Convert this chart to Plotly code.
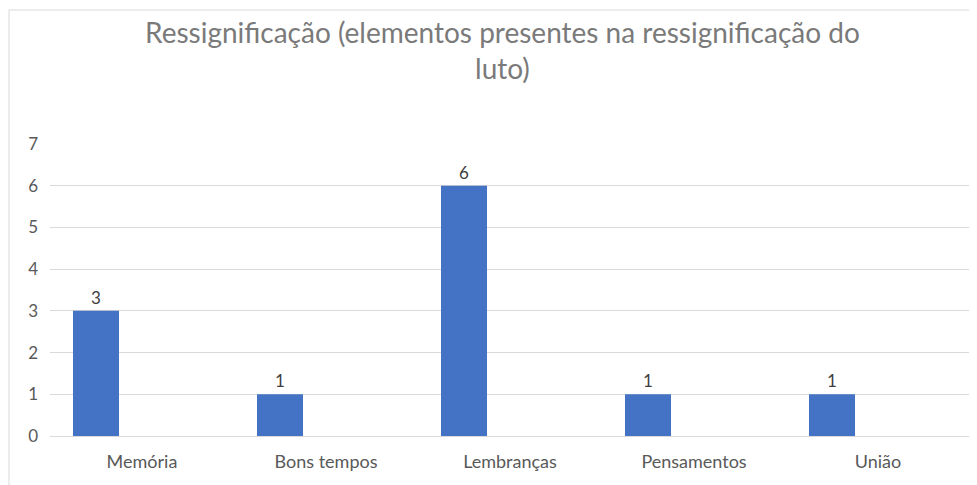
import plotly.graph_objects as go

# Categorias e valores do gráfico
categorias = ["Memória", "Bons tempos", "Lembranças", "Pensamentos", "União"]
valores = [3, 1, 6, 1, 1]
y_ticks = [0, 1, 2, 3, 4, 5, 6, 7]

titulo = "Ressignificação (elementos presentes na ressignificação do<br>luto)"

FONTE = "Lato, Open Sans, sans-serif"

# a página tem 8px de margem no body, por isso a figura é um pouco menor
W, H = 969, 477
ml, mr, mt, mb = 42, 7, 136, 49
pw, ph = W - ml - mr, H - mt - mb

fig = go.Figure()
fig.add_trace(go.Bar(
    x=categorias, y=valores, name="Série 1",
    marker=dict(color="#4472C4", line=dict(width=0)),
    text=valores, textposition="outside", cliponaxis=False,
    textfont=dict(family=FONTE, size=17, color="#404040"),
))
# séries vazias (Excel reserva espaço para elas)
for nome in ["Série 2", "Série 3"]:
    fig.add_trace(go.Bar(x=categorias, y=[None] * len(categorias), name=nome, showlegend=False))

# borda da área do gráfico
fig.add_shape(
    type="rect", xref="paper", yref="paper",
    x0=(1 - ml) / pw, x1=(W + 10 - ml) / pw,
    y0=-(mb + 20) / ph, y1=1 + (mt - 2) / ph,
    line=dict(color="#d9d9d9", width=1), layer="below",
)

# título
fig.add_annotation(
    text=titulo, xref="paper", yref="paper",
    x=(494 - ml) / pw, xanchor="center",
    y=1 + (mt - 5) / ph, yanchor="top",
    showarrow=False, align="center",
    font=dict(family=FONTE, size=28, color="#7a7a7a"),
)

fig.update_layout(
    width=W, height=H,
    margin=dict(l=ml, r=mr, t=mt, b=mb),
    paper_bgcolor="white", plot_bgcolor="white",
    barmode="group", bargap=0.25, bargroupgap=0,
    showlegend=False,
    xaxis=dict(
        showgrid=False, showline=True, linecolor="#d9d9d9", linewidth=1,
        ticks="", ticklabelstandoff=9,
        tickfont=dict(family=FONTE, size=18, color="#595959"),
    ),
    yaxis=dict(
        range=[0, 7], tickvals=y_ticks, showgrid=True, gridcolor="#d9d9d9", gridwidth=1,
        zeroline=False, showline=False, ticks="", ticklabelstandoff=11,
        tickfont=dict(family=FONTE, size=17, color="#595959"),
    ),
)

fig.write_html("out.html")
